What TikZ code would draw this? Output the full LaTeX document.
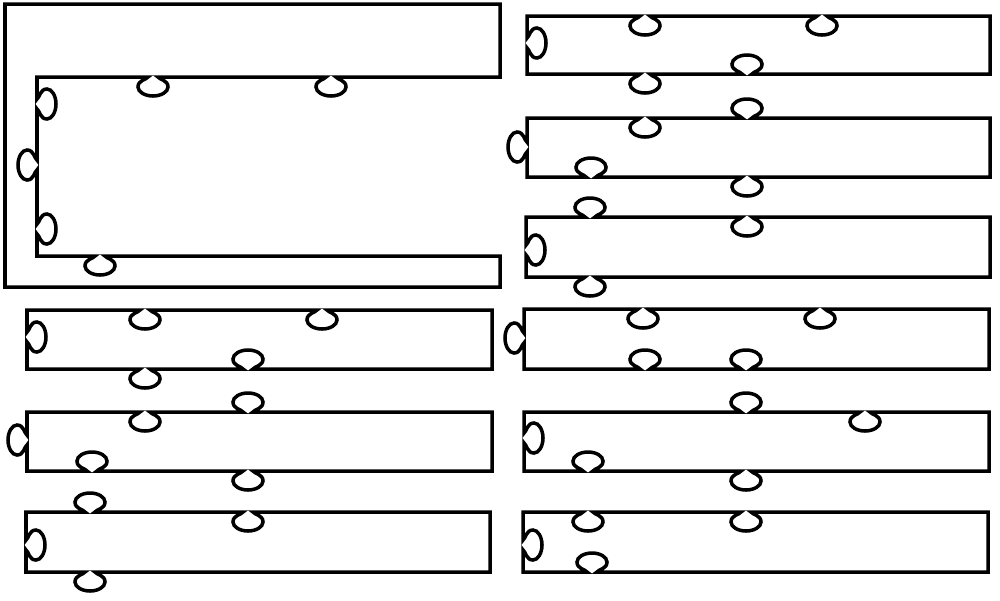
\documentclass[tikz,border=0pt]{standalone}
\usepackage{tikz}

% tab on a horizontal edge: #1 centre x, #2 edge y, #3 side (+1 down, -1 up), #4 run (+1 right, -1 left)
\newcommand\tabh[4]{%
  -- ({#1-5*(#4)},#2)
  .. controls ({#1-7*(#4)},{#2+3*(#3)}) and ({#1-15*(#4)},{#2+3*(#3)}) .. ({#1-15*(#4)},{#2+10*(#3)})
  .. controls ({#1-15*(#4)},{#2+15*(#3)}) and ({#1-8*(#4)},{#2+19*(#3)}) .. (#1,{#2+19*(#3)})
  .. controls ({#1+8*(#4)},{#2+19*(#3)}) and ({#1+15*(#4)},{#2+15*(#3)}) .. ({#1+15*(#4)},{#2+10*(#3)})
  .. controls ({#1+15*(#4)},{#2+3*(#3)}) and ({#1+7*(#4)},{#2+3*(#3)}) .. ({#1+5*(#4)},#2)}
% tab on a vertical edge: #1 centre y, #2 edge x, #3 side (+1 right, -1 left), #4 run (+1 down, -1 up)
\newcommand\tabv[4]{%
  -- (#2,{#1-5*(#4)})
  .. controls ({#2+3*(#3)},{#1-7*(#4)}) and ({#2+3*(#3)},{#1-15*(#4)}) .. ({#2+10*(#3)},{#1-15*(#4)})
  .. controls ({#2+15*(#3)},{#1-15*(#4)}) and ({#2+19*(#3)},{#1-8*(#4)}) .. ({#2+19*(#3)},#1)
  .. controls ({#2+19*(#3)},{#1+8*(#4)}) and ({#2+15*(#3)},{#1+15*(#4)}) .. ({#2+10*(#3)},{#1+15*(#4)})
  .. controls ({#2+3*(#3)},{#1+15*(#4)}) and ({#2+3*(#3)},{#1+7*(#4)}) .. (#2,{#1+5*(#4)})}

\begin{document}
\begin{tikzpicture}[
  x=0.02cm, y=-0.02cm,
  piece/.style={draw, line width=2pt, line join=miter},
]
\useasboundingbox (0,0) rectangle (1000,600);

%% --- Frame piece ---
\draw[piece] (5,4) -- (500,4) -- (500,77)
  \tabh{331}{77}{1}{-1} \tabh{153}{77}{1}{-1} -- (37,77)
  \tabv{104}{37}{1}{1} \tabv{165}{37}{-1}{1} \tabv{229}{37}{1}{1} -- (37,256)
  \tabh{100}{256}{1}{1} -- (500,256) -- (500,287) -- (5,287) -- cycle;

%% --- Left column ---
\draw[piece] (27,310) \tabh{145}{310}{1}{1} \tabh{322}{310}{1}{1} -- (492,310) -- (492,369)
  \tabh{248}{369}{-1}{-1} \tabh{145}{369}{1}{-1} -- (27,369) \tabv{337}{27}{1}{-1} -- cycle;
\draw[piece] (27,412) \tabh{145}{412}{1}{1} \tabh{248}{412}{-1}{1} -- (492,412) -- (492,471)
  \tabh{248}{471}{1}{-1} \tabh{92}{471}{-1}{-1} -- (27,471) \tabv{440}{27}{-1}{-1} -- cycle;
\draw[piece] (26,512) \tabh{90}{512}{-1}{1} \tabh{248}{512}{1}{1} -- (490,512) -- (490,572)
  \tabh{90}{572}{1}{-1} -- (26,572) \tabv{545}{26}{1}{-1} -- cycle;

%% --- Right column ---
\draw[piece] (527,16) \tabh{645}{16}{1}{1} \tabh{822}{16}{1}{1} -- (990,16) -- (990,74)
  \tabh{747}{74}{-1}{-1} \tabh{645}{74}{1}{-1} -- (527,74) \tabv{43}{527}{1}{-1} -- cycle;
\draw[piece] (527,118) \tabh{645}{118}{1}{1} \tabh{747}{118}{-1}{1} -- (990,118) -- (990,177)
  \tabh{747}{177}{1}{-1} \tabh{591}{177}{-1}{-1} -- (527,177) \tabv{147}{527}{-1}{-1} -- cycle;
\draw[piece] (526,217) \tabh{590}{217}{-1}{1} \tabh{747}{217}{1}{1} -- (990,217) -- (990,277)
  \tabh{590}{277}{1}{-1} -- (526,277) \tabv{250}{526}{1}{-1} -- cycle;
\draw[piece] (524,309) \tabh{643}{309}{1}{1} \tabh{820}{309}{1}{1} -- (989,309) -- (989,369)
  \tabh{746}{369}{-1}{-1} \tabh{645}{369}{-1}{-1} -- (524,369) \tabv{338}{524}{-1}{-1} -- cycle;
\draw[piece] (524,412) \tabh{746}{412}{-1}{1} \tabh{865}{412}{1}{1} -- (989,412) -- (989,471)
  \tabh{746}{471}{1}{-1} \tabh{588}{471}{-1}{-1} -- (524,471) \tabv{438}{524}{1}{-1} -- cycle;
\draw[piece] (523,512) \tabh{588}{512}{1}{1} \tabh{746}{512}{1}{1} -- (988,512) -- (988,572)
  \tabh{592}{572}{-1}{-1} -- (523,572) \tabv{545}{523}{1}{-1} -- cycle;

\end{tikzpicture}
\end{document}
